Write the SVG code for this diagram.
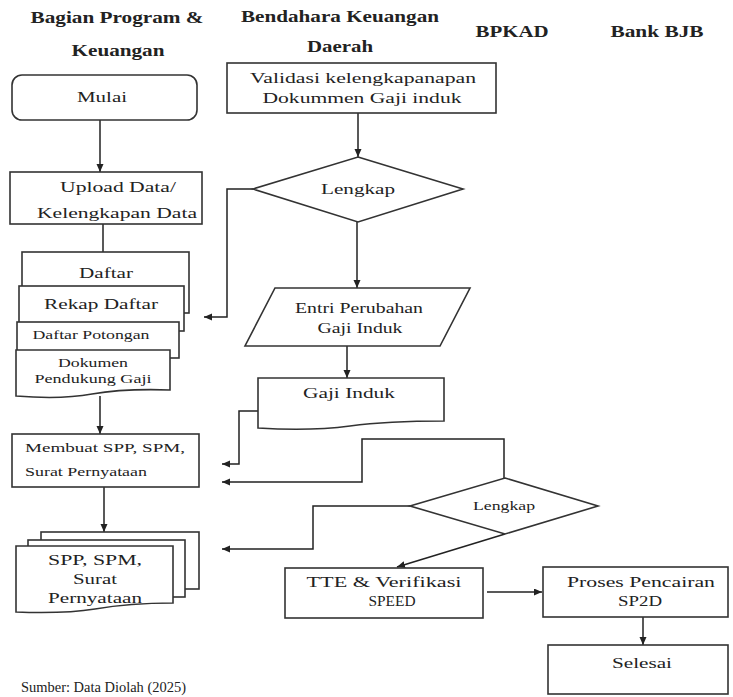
<svg xmlns="http://www.w3.org/2000/svg" width="733" height="697" viewBox="0 0 733 697" font-family="'Liberation Serif', 'DejaVu Serif', serif">
<defs>
<marker id="ah" markerUnits="userSpaceOnUse" markerWidth="9" markerHeight="8" refX="8" refY="3.5" orient="auto">
<path d="M0,0 L8,3.5 L0,7 z" fill="#222"/>
</marker>
<style>
.bx{fill:#fff;stroke:#333;stroke-width:1.6}
.ln{fill:none;stroke:#222;stroke-width:1.5}
.arr{fill:none;stroke:#222;stroke-width:1.5;marker-end:url(#ah)}
text{font-family:'Liberation Serif','DejaVu Serif',serif;fill:#222;font-size:14.5px}
.c{text-anchor:middle}
.h{font-weight:bold;font-size:16px}
.s{font-size:12.5px}
</style>
</defs>
<rect width="733" height="697" fill="#fff"/>
<g id="headers">
<text class="h c" x="117" y="23" textLength="173" lengthAdjust="spacingAndGlyphs">Bagian Program &amp;</text>
<text class="h c" x="118" y="56" textLength="93" lengthAdjust="spacingAndGlyphs">Keuangan</text>
<text class="h c" x="340" y="22" textLength="198" lengthAdjust="spacingAndGlyphs">Bendahara Keuangan</text>
<text class="h c" x="340" y="52" textLength="66" lengthAdjust="spacingAndGlyphs">Daerah</text>
<text class="h c" x="512" y="37" textLength="73" lengthAdjust="spacingAndGlyphs">BPKAD</text>
<text class="h c" x="657" y="37" textLength="93" lengthAdjust="spacingAndGlyphs">Bank BJB</text>
</g>
<g id="connectors">
<path class="arr" d="M100,120 V172"/>
<path class="ln" d="M103,224 V252"/>
<path class="arr" d="M100,396 V434"/>
<path class="arr" d="M104,487 V532"/>
<path class="arr" d="M358,113 V157"/>
<path class="arr" d="M357,222 V288"/>
<path class="arr" d="M347,346 V378"/>
<path class="arr" d="M253,189 H227 V317 H204"/>
<path class="arr" d="M258,411 H239 V464 H222"/>
<path class="arr" d="M504,478 V439 H362 V482 H222"/>
<path class="arr" d="M410,506 H313 V549 H222"/>
<path class="arr" d="M505,534 L397,567"/>
<path class="arr" d="M487,592 H542"/>
<path class="arr" d="M643,617 V645"/>
</g>
<g id="mulai">
<rect class="bx" x="12" y="75" width="185" height="45" rx="10"/>
<text class="c" x="102" y="102" textLength="50" lengthAdjust="spacingAndGlyphs">Mulai</text>
</g>
<g id="upload">
<rect class="bx" x="10" y="172" width="192" height="52"/>
<text class="c" x="118" y="192" textLength="116" lengthAdjust="spacingAndGlyphs">Upload Data/</text>
<text class="c" x="117" y="218" textLength="160" lengthAdjust="spacingAndGlyphs">Kelengkapan Data</text>
</g>
<g id="daftar">
<rect class="bx" x="22" y="252" width="167" height="61"/>
<text class="c" x="106" y="278" textLength="54" lengthAdjust="spacingAndGlyphs">Daftar</text>
</g>
<g id="rekap">
<rect class="bx" x="19" y="286" width="165" height="45"/>
<text class="c" x="101" y="309" textLength="114" lengthAdjust="spacingAndGlyphs">Rekap Daftar</text>
</g>
<g id="potongan">
<rect class="bx" x="17" y="322" width="162" height="36"/>
<text class="c" x="91" y="339" style="font-size:13px" textLength="117" lengthAdjust="spacingAndGlyphs">Daftar Potongan</text>
</g>
<g id="dokumen">
<path class="bx" d="M16,350 H170 V390 C140,389 115,390 92,394 C65,399 40,398 16,396 Z"/>
<text class="c" x="93" y="367" style="font-size:13.5px" textLength="70" lengthAdjust="spacingAndGlyphs">Dokumen</text>
<text class="c" x="93" y="383" style="font-size:13.5px" textLength="117" lengthAdjust="spacingAndGlyphs">Pendukung Gaji</text>
</g>
<g id="membuat">
<rect class="bx" x="12" y="434" width="187" height="53"/>
<text class="s" x="25" y="452" textLength="160" lengthAdjust="spacingAndGlyphs">Membuat SPP, SPM,</text>
<text class="s" x="25" y="476" textLength="122" lengthAdjust="spacingAndGlyphs">Surat Pernyataan</text>
</g>
<g id="spp">
<rect class="bx" x="41" y="532" width="158" height="57"/>
<rect class="bx" x="28" y="540" width="157" height="57"/>
<path class="bx" d="M16,546 H173 V603 C145,603 118,605 95,609 C70,613 42,613 16,612 Z"/>
<text class="c" x="95" y="565" textLength="94" lengthAdjust="spacingAndGlyphs">SPP, SPM,</text>
<text class="c" x="95" y="584" textLength="44" lengthAdjust="spacingAndGlyphs">Surat</text>
<text class="c" x="95" y="603" textLength="94" lengthAdjust="spacingAndGlyphs">Pernyataan</text>
</g>
<g id="validasi">
<rect class="bx" x="227" y="63" width="269" height="50"/>
<text class="c" x="363" y="83" textLength="226" lengthAdjust="spacingAndGlyphs">Validasi kelengkapanapan</text>
<text class="c" x="362" y="103" textLength="199" lengthAdjust="spacingAndGlyphs">Dokummen Gaji induk</text>
</g>
<g id="lengkap1">
<polygon class="bx" points="358,157 463,189 358,222 253,189"/>
<text class="c" x="358" y="194" textLength="74" lengthAdjust="spacingAndGlyphs">Lengkap</text>
</g>
<g id="entri">
<polygon class="bx" points="275,288 470,288 440,346 245,346"/>
<text class="c" x="359" y="313" textLength="128" lengthAdjust="spacingAndGlyphs">Entri Perubahan</text>
<text class="c" x="360" y="333" textLength="85" lengthAdjust="spacingAndGlyphs">Gaji Induk</text>
</g>
<g id="gajiinduk">
<path class="bx" d="M258,378 H444 V421 C412,421 380,422 350,426 C320,430 290,430 258,428 Z"/>
<text class="c" x="349" y="398" textLength="92" lengthAdjust="spacingAndGlyphs">Gaji Induk</text>
</g>
<g id="lengkap2">
<polygon class="bx" points="505,478 598,506 505,534 410,506"/>
<text class="c s" x="504" y="510" textLength="62" lengthAdjust="spacingAndGlyphs">Lengkap</text>
</g>
<g id="tte">
<rect class="bx" x="285" y="568" width="198" height="50"/>
<text class="c" x="384" y="587" textLength="155" lengthAdjust="spacingAndGlyphs">TTE &amp; Verifikasi</text>
<text class="c" x="392" y="606" textLength="47" lengthAdjust="spacingAndGlyphs">SPEED</text>
</g>
<g id="proses">
<rect class="bx" x="543" y="567" width="185" height="50"/>
<text class="c" x="641" y="587" textLength="148" lengthAdjust="spacingAndGlyphs">Proses Pencairan</text>
<text class="c" x="640" y="606" textLength="44" lengthAdjust="spacingAndGlyphs">SP2D</text>
</g>
<g id="selesai">
<rect class="bx" x="548" y="645" width="180" height="49"/>
<text class="c" x="642" y="668" textLength="60" lengthAdjust="spacingAndGlyphs">Selesai</text>
</g>
<g id="source">
<text x="21" y="692" textLength="165" lengthAdjust="spacingAndGlyphs">Sumber: Data Diolah (2025)</text>
</g>
</svg>
